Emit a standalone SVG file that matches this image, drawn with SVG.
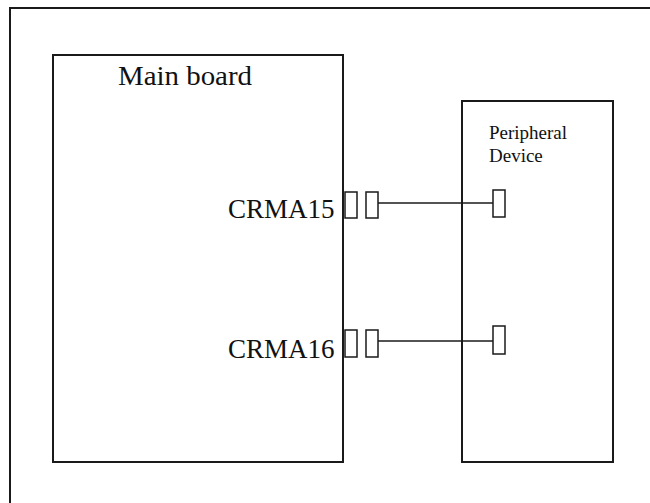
<svg xmlns="http://www.w3.org/2000/svg" width="650" height="503" viewBox="0 0 650 503">
<style>
.box{fill:none;stroke:#1a1a1a;stroke-width:2}
.con{fill:#fff;stroke:#1a1a1a;stroke-width:1.5}
.wire{stroke:#1a1a1a;stroke-width:1.5;fill:none}
text{font-family:"Liberation Serif","Times New Roman",serif;fill:#111}
</style>
<rect width="650" height="503" fill="#fff"/>
<g id="frame"><path class="box" d="M10,504 V8 H651"/></g>
<g id="mainboard">
<rect class="box" x="53" y="55" width="290" height="407"/>
<text x="118" y="85" font-size="27" textLength="134" lengthAdjust="spacingAndGlyphs">Main board</text>
</g>
<g id="peripheral">
<rect class="box" x="462" y="101" width="151" height="361"/>
<text x="489" y="139" font-size="19">Peripheral</text>
<text x="489" y="162" font-size="19">Device</text>
</g>
<g id="crma15">
<text x="228" y="218" font-size="27">CRMA15</text>
<rect class="con" x="345" y="192" width="12" height="26"/>
<rect class="con" x="366" y="192" width="12" height="26"/>
</g>
<g id="crma16">
<text x="228" y="358" font-size="27">CRMA16</text>
<rect class="con" x="345" y="330" width="12" height="27"/>
<rect class="con" x="366" y="330" width="12" height="27"/>
</g>
<g id="pconn1"><rect class="con" x="493" y="190" width="12" height="27"/></g>
<g id="pconn2"><rect class="con" x="493" y="326" width="12" height="28"/></g>
<g id="connectors">
<line class="wire" x1="378" y1="203" x2="493" y2="203"/>
<line class="wire" x1="378" y1="341" x2="493" y2="341"/>
</g>
</svg>
